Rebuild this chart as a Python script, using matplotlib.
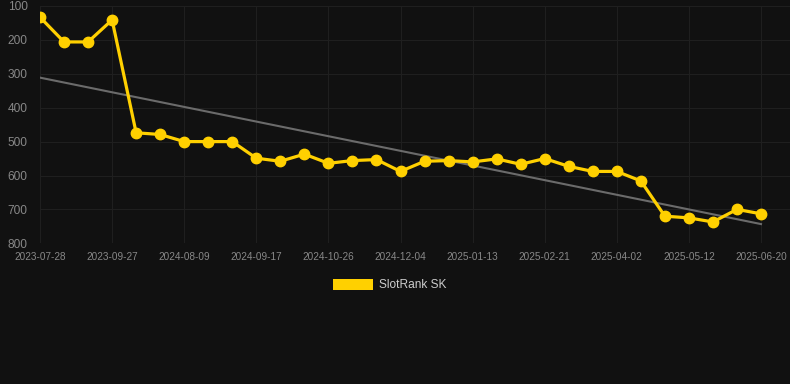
import matplotlib
matplotlib.use("Agg")
import matplotlib.pyplot as plt
import numpy as np
from matplotlib.patches import Rectangle

tick_labels = ["2023-07-28", "2023-09-27", "2024-08-09", "2024-09-17", "2024-10-26",
               "2024-12-04", "2025-01-13", "2025-02-21", "2025-04-02", "2025-05-12", "2025-06-20"]
ranks = [133, 206, 206, 141, 474, 479, 500, 500, 500, 549, 558, 537, 564, 556, 553,
         588, 558, 556, 560, 551, 567, 550, 573, 588, 588, 616, 720, 725, 737, 700, 713]
series_name = "SlotRank SK"
y_ticks = [100, 200, 300, 400, 500, 600, 700, 800]

W, H = 790, 384
fig = plt.figure(figsize=(W / 100, H / 100), dpi=100)
fig.patch.set_facecolor("#111111")
ax = fig.add_axes([40 / W, (H - 243.3) / H, (790 - 40) / W, (243.3 - 6) / H])
ax.set_facecolor("#111111")

x = np.arange(len(ranks))
coef = np.polyfit(x, ranks, 1)
trend = np.polyval(coef, x)

ax.plot(x, trend, color="#6b6b6b", lw=1.5, zorder=2)
ax.plot(x, ranks, color="#FFD000", lw=2.3, marker="o", markersize=7.5,
        markerfacecolor="#FFD000", markeredgecolor="#FFD000", zorder=3)

step = (761 - 40) / 30
ax.set_xlim(0, (790 - 40) / step)
ax.set_ylim(800, 100)
ax.set_yticks(y_ticks)
ax.set_yticklabels([str(v) for v in y_ticks])
tick_pos = list(range(0, len(ranks), 3))
ax.set_xticks(tick_pos)
ax.set_xticklabels(tick_labels)

for s in ax.spines.values():
    s.set_visible(False)
ax.grid(True, color="#1f1f1f", lw=0.8, zorder=0)
ax.tick_params(axis="y", length=0, pad=9, labelsize=8.6, labelcolor="#888888")
ax.tick_params(axis="x", length=0, pad=6, labelsize=7.2, labelcolor="#888888")
for lab in ax.get_yticklabels() + ax.get_xticklabels():
    lab.set_fontfamily("Liberation Sans")

# legend
fig.patches.append(Rectangle((333 / W, (H - 290) / H), 40 / W, 11 / H,
                             transform=fig.transFigure, facecolor="#FFD000",
                             edgecolor="none"))
fig.text(379 / W, (H - 284.5) / H, series_name, color="#cccccc", fontsize=8.6,
         family="Liberation Sans", va="center", ha="left")

fig.savefig("out.png", dpi=100, facecolor=fig.get_facecolor())
